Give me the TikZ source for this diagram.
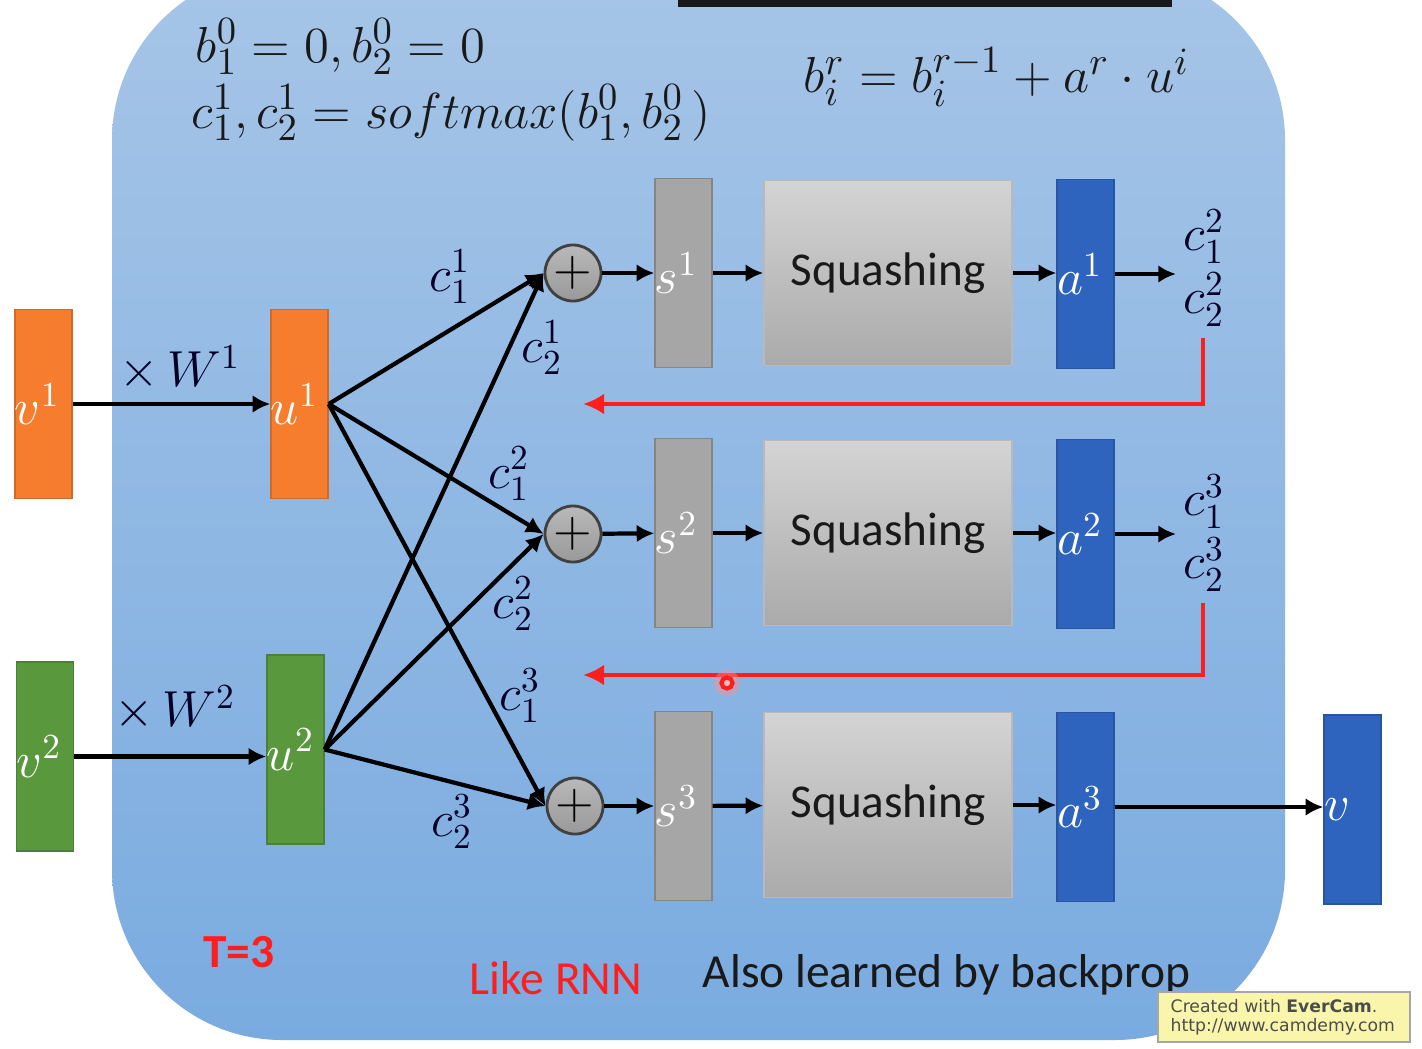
\documentclass[tikz,border=0pt]{standalone}
\usepackage{fontspec}
\setsansfont{Carlito}
\newfontfamily\markfont{DejaVu Sans}
\usetikzlibrary{arrows.meta}
\definecolor{slideblue}{RGB}{166,197,231}
\definecolor{slidebluedark}{RGB}{122,171,224}
\definecolor{inorange}{RGB}{246,124,46}
\definecolor{ingreen}{RGB}{90,152,62}
\definecolor{capblue}{RGB}{46,100,190}
\definecolor{sgray}{RGB}{166,166,166}
\definecolor{sqtop}{RGB}{212,212,212}
\definecolor{sqbot}{RGB}{170,170,170}
\definecolor{loopred}{RGB}{255,30,30}
\definecolor{markyellow}{RGB}{249,246,172}
\tikzstyle{vec}=[rectangle, inner sep=0pt, minimum width=0.57cm, minimum height=1.89cm]
\tikzstyle{inv}=[vec, fill=inorange, draw=inorange!85!black]
\tikzstyle{inw}=[vec, fill=ingreen, draw=ingreen!85!black]
\tikzstyle{sv}=[vec, fill=sgray, draw=sgray!80!black]
\tikzstyle{av}=[vec, fill=capblue, draw=capblue!85!black]
\tikzstyle{squash}=[rectangle, inner sep=0pt, minimum width=2.48cm, minimum height=1.85cm, draw=gray!55, top color=sqtop, bottom color=sqbot, text=black!90, font=\sffamily\fontsize{13.4}{16}\selectfont]
\tikzstyle{sum}=[circle, inner sep=0pt, minimum size=0.56cm, draw=black!75, thick, top color=gray!55, bottom color=gray!80, font=\fontsize{14}{16}\selectfont]
\tikzstyle{wl}=[anchor=west, inner sep=0pt, text=white, font=\fontsize{14.5}{17}\selectfont]
\tikzstyle{cw}=[inner sep=0pt, text=black!85!blue, font=\fontsize{14.5}{17}\selectfont]
\tikzstyle{cstack}=[cw, align=center, inner sep=2pt]
\tikzstyle{formula}=[anchor=west, inner sep=0pt, text=black!90, font=\fontsize{15}{18}\selectfont]
\tikzstyle{note}=[inner sep=0pt, font=\sffamily\fontsize{13.5}{16}\selectfont]
\tikzstyle{flow}=[-{Latex[length=5pt,width=5pt]}, line width=1.2pt]
\tikzstyle{feedback}=[-{Latex[length=6pt,width=6pt]}, line width=1.3pt, draw=loopred]
\begin{document}
\begin{tikzpicture}[x=0.01cm,y=-0.01cm]
			\useasboundingbox (0,0) rectangle (1422,1048);
			\fill[white] (0,0) rectangle (1422,1048);
			
			%The slide background
			\shade[top color=slideblue, bottom color=slidebluedark, rounded corners=1.7cm] (112,-30) rectangle (1285,1040);
			\fill[black!90] (678,0) rectangle (1172,7);
			
			%The formulas
			\draw (195,47) node[formula] (binit) {$b_1^0=0, b_2^0=0$};
			\draw (191,113) node[formula] (cinit) {$c_1^1, c_2^1=softmax(b_1^0, b_2^0\,)$};
			\draw (803,77) node[formula] (bupd) {$b_i^r=b_i^{r-1}+a^r\cdot u^i$};
			
			%The inputs
			\draw (43.5,404) node[inv, label={[wl]west:$v^1$}] (v1) {};
			\draw (45,756.5) node[inw, label={[wl]west:$v^2$}] (v2) {};
			\draw (299.5,404) node[inv, label={[wl]west:$u^1$}] (u1) {};
			\draw (295.5,749.5) node[inw, label={[wl]west:$u^2$}] (u2) {};
			
			\draw[flow] (v1) -- (u1);
			\draw[flow] (v2.east) -- (u2.west |- v2.east);
			\draw (180,368) node[cw] (w1) {$\times\,W^1$};
			\draw (175,708) node[cw] (w2) {$\times\,W^2$};
			
			%The three iterations
			\draw (573,273) node[sum] (p1) {$+$};
			\draw (573,534) node[sum] (p2) {$+$};
			\draw (575,806) node[sum] (p3) {$+$};
			
			\draw (683.5,273) node[sv, label={[wl]west:$s^1$}] (s1) {};
			\draw (683.5,533) node[sv, label={[wl]west:$s^2$}] (s2) {};
			\draw (683.5,806) node[sv, label={[wl]west:$s^3$}] (s3) {};
			
			\draw (888,273) node[squash] (q1) {Squashing};
			\draw (888,533) node[squash] (q2) {Squashing};
			\draw (888,805) node[squash] (q3) {Squashing};
			
			\draw (1085.5,274) node[av, label={[wl]west:$a^1$}] (a1) {};
			\draw (1085.5,534) node[av, label={[wl]west:$a^2$}] (a2) {};
			\draw (1085.5,807) node[av, label={[wl]west:$a^3$}] (a3) {};
			\draw (1352.5,809.5) node[av, label={[wl]west:$v$}] (vout) {};
			
			\draw[flow] (p1) -- (s1);
			\draw[flow] (p2) -- (s2);
			\draw[flow] (p3) -- (s3);
			\draw[flow] (s1) -- (q1);
			\draw[flow] (s2) -- (q2);
			\draw[flow] (s3) -- (q3);
			\draw[flow] (q1) -- (a1.west |- q1.east);
			\draw[flow] (q2) -- (a2.west |- q2.east);
			\draw[flow] (q3) -- (a3.west |- q3.east);
			\draw[flow] (a3.east) -- (vout.west |- a3.east);
			
			%The coupling coefficients
			\draw[flow] (u1.east) -- (p1.west);
			\draw[flow] (u1.east) -- (p2.west);
			\draw[flow] (u1.east) -- (p3.west);
			\draw[flow] (u2.east) -- (p1.west);
			\draw[flow] (u2.east) -- (p2.west);
			\draw[flow] (u2.east) -- (p3.west);
			
			\draw (450,277) node[cw] (c11) {$c_1^1$};
			\draw (542,348) node[cw] (c21) {$c_2^1$};
			\draw (509,474) node[cw] (c12) {$c_1^2$};
			\draw (513,604) node[cw] (c22) {$c_2^2$};
			\draw (520,696) node[cw] (c13) {$c_1^3$};
			\draw (452,822) node[cw] (c23) {$c_2^3$};
			
			%The updated coefficients and the feedback
			\draw (1204,268) node[cstack] (cs1) {$c_1^2$\\[1pt]$c_2^2$};
			\draw (1204,533) node[cstack] (cs2) {$c_1^3$\\[1pt]$c_2^3$};
			\draw[flow] (a1.east) -- (cs1.west |- a1.east);
			\draw[flow] (a2.east) -- (cs2.west |- a2.east);
			
			\coordinate (fb1a) at (1203,338);
			\coordinate (fb1b) at (583,404);
			\coordinate (fb2a) at (1203,603);
			\coordinate (fb2b) at (583,675);
			\draw[feedback] (fb1a) |- (fb1b);
			\draw[feedback] (fb2a) |- (fb2b);
			
			%The pointer
			\fill[loopred!50, opacity=0.45] (727,683) circle (0.13cm);
			\draw[loopred, line width=1.2pt, fill=loopred!30] (727,683) circle (0.055cm);
			
			%The notes
			\draw (239,952) node[note, text=loopred, font=\sffamily\bfseries\fontsize{13.5}{16}\selectfont] (tnote) {T=3};
			\draw (556,978) node[note, text=loopred] (rnn) {Like RNN};
			\draw (702,975) node[note, anchor=west, text=black!90] (bp) {Also learned by backprop};
			
			%The watermark
			\draw[fill=markyellow, draw=gray!70] (1158,992) rectangle (1410,1042);
			\draw (1170,1006) node[anchor=west, inner sep=0pt, text=black!70, font=\markfont\fontsize{4.9}{6}\selectfont] (mark1) {Created with \textbf{EverCam}.};
			\draw (1170,1027) node[anchor=west, inner sep=0pt, text=black!70, font=\markfont\fontsize{4.9}{6}\selectfont] (mark2) {http://www.camdemy.com};
		\end{tikzpicture}
\end{document}
